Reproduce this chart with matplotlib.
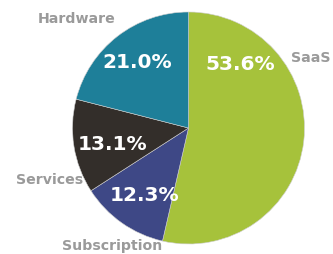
import matplotlib
matplotlib.use("Agg")
import matplotlib.pyplot as plt

# Revenue mix by segment
segments = ["SaaS", "Subscription", "Services", "Hardware"]
shares = [53.6, 12.3, 13.1, 21.0]
colors = ["#a6c23b", "#3e4886", "#332e2a", "#1e7f99"]

W, H = 333, 255
fig = plt.figure(figsize=(W / 100, H / 100), dpi=100)
ax = fig.add_axes([0, 0, 1, 1])

# pixel layout: pie centre and radius
cx, cy, r = 188.5, H - 129, 116
ax.pie(shares, colors=colors, startangle=90, counterclock=False,
       center=(cx, cy), radius=r,
       wedgeprops=dict(linewidth=0.4, edgecolor="#cfcfcf"))
ax.set_xlim(0, W)
ax.set_ylim(0, H)
ax.set_aspect("equal")
ax.axis("off")

# label placement (image px, from top-left)
name_pos = {"SaaS": (311, 58), "Subscription": (112, 246),
            "Services": (50, 180), "Hardware": (77, 19)}
pct_pos = {"SaaS": (240, 64), "Subscription": (144, 196),
           "Services": (112, 145), "Hardware": (137, 63)}

for name, val in zip(segments, shares):
    x, y = name_pos[name]
    ax.text(x, H - y, name, ha="center", va="center", fontsize=10.2,
            fontweight="bold", color="#9a9a9a")
    x, y = pct_pos[name]
    ax.text(x, H - y, f"{val:.1f}%", ha="center", va="center", fontsize=14.5,
            fontweight="semibold", color="white")

fig.savefig("out.png", dpi=100)
